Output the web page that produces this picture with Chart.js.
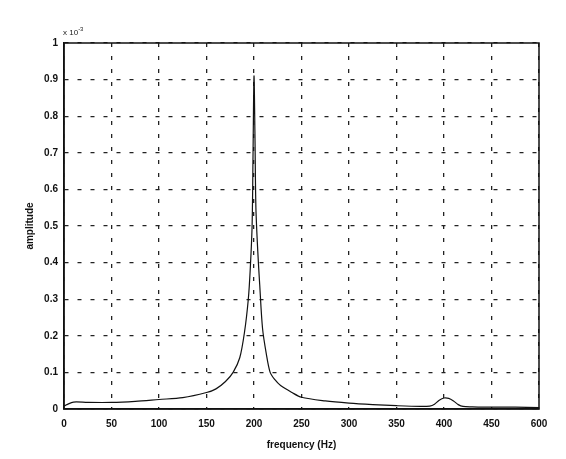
<!DOCTYPE html>
<html>
<head>
<meta charset="utf-8">
<script src="https://cdn.jsdelivr.net/npm/chart.js@4/dist/chart.umd.min.js"></script>
<style>
  html, body { margin: 0; padding: 0; background: #fff; }
  #wrap { position: relative; width: 566px; height: 459px; }
  #exp { position: absolute; left: 63px; top: 26px; font: 8px "Liberation Sans", Arial, sans-serif; color: #222; }
  #exp sup { font-size: 6px; }
</style>
</head>
<body>
<div id="wrap">
  <canvas id="spectrum" width="566" height="459"></canvas>
  <div id="exp">x 10<sup>-3</sup></div>
</div>
<script>
// spectrum
const freqs = [0, 3, 10, 25, 50, 75, 100, 125, 150, 160, 170, 178, 185, 190, 194, 196, 198, 199, 200,
  201, 202, 204, 206, 209, 213, 217, 222, 228, 240, 250, 275, 300, 325, 350, 375, 385, 390, 395, 400,
  405, 410, 415, 420, 430, 450, 475, 500];
const amps = [0.008, 0.012, 0.019, 0.018, 0.018, 0.021, 0.026, 0.031, 0.045, 0.055, 0.075, 0.10, 0.14, 0.21,
  0.30, 0.38, 0.50, 0.70, 0.91, 0.75, 0.55, 0.43, 0.34, 0.22, 0.15, 0.10, 0.08, 0.064, 0.045, 0.032, 0.022,
  0.016, 0.012, 0.009, 0.007, 0.008, 0.013, 0.024, 0.030, 0.029, 0.022, 0.012, 0.007, 0.006, 0.005, 0.005, 0.004];

// tick labels as printed on the figure
const xTickLabels = ["0", "50", "100", "150", "200", "250", "300", "350", "400", "450", "600"];
const yTickLabels = ["0", "0.1", "0.2", "0.3", "0.4", "0.5", "0.6", "0.7", "0.8", "0.9", "1"];

const tickFont = { family: "Liberation Sans", size: 10, weight: "bold" };
const titleFont = { family: "Liberation Sans", size: 10, weight: "bold" };

// solid frame around the plot area
const frame = {
  id: "frame",
  afterDraw(chart) {
    const { ctx, chartArea: a } = chart;
    ctx.save();
    ctx.strokeStyle = "#111";
    ctx.lineWidth = 1.5;
    ctx.strokeRect(a.left, a.top, a.right - a.left, a.bottom - a.top);
    ctx.restore();
  }
};

new Chart(document.getElementById("spectrum"), {
  type: "line",
  data: {
    datasets: [{
      data: freqs.map((f, i) => ({ x: f, y: amps[i] })),
      borderColor: "#111",
      borderWidth: 1.2,
      pointRadius: 0,
      tension: 0.3,
      fill: false
    }]
  },
  options: {
    responsive: false,
    animation: false,
    layout: { padding: { left: 0, right: 27, top: 43, bottom: 0 } },
    plugins: { legend: { display: false }, tooltip: { enabled: false } },
    scales: {
      x: {
        type: "linear",
        min: 0,
        max: 500,
        afterFit: s => { s.height = 50; },
        afterBuildTicks: s => { s.ticks = xTickLabels.map((_, i) => ({ value: i * 50 })); },
        ticks: {
          color: "#111",
          font: tickFont,
          padding: 9,
          maxRotation: 0,
          callback: (v, i) => xTickLabels[i]
        },
        grid: { color: "#222", lineWidth: 1.3, drawTicks: false },
        border: { display: true, color: "#111", width: 1.5, dash: [4, 9] },
        title: { display: true, text: "frequency (Hz)", color: "#111", font: titleFont, padding: { top: 0, bottom: 8 } }
      },
      y: {
        min: 0,
        max: 1,
        afterFit: s => { s.width = 64; },
        afterBuildTicks: s => { s.ticks = yTickLabels.map((_, i) => ({ value: i / 10 })); },
        ticks: {
          color: "#111",
          font: tickFont,
          padding: 6,
          callback: (v, i) => yTickLabels[i]
        },
        grid: { color: "#222", lineWidth: 1.3, drawTicks: false },
        border: { display: true, color: "#111", width: 1.5, dash: [4, 9] },
        title: { display: true, text: "amplitude", color: "#111", font: titleFont, padding: { top: 24, bottom: 0 } }
      }
    }
  },
  plugins: [frame]
});
</script>
</body>
</html>
